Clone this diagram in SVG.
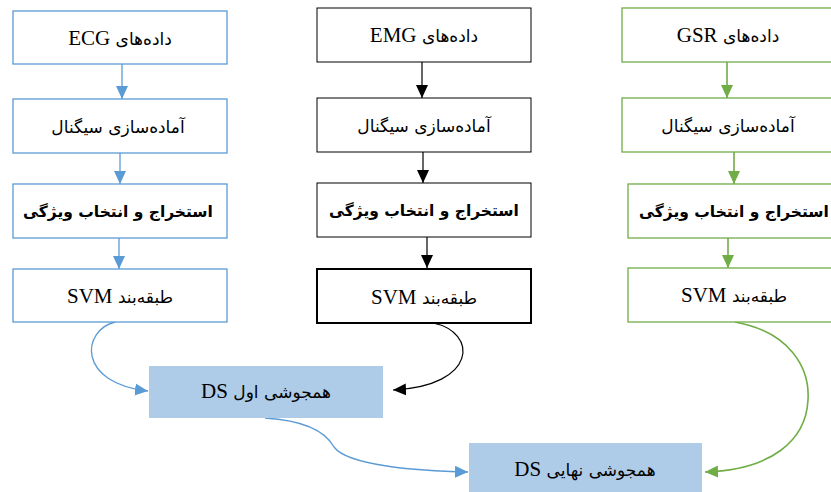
<svg xmlns="http://www.w3.org/2000/svg" width="831" height="492" viewBox="0 0 831 492">
<style>
.b{fill:#fff;stroke:#5B9BD5;stroke-width:1.3}
.k{fill:#fff;stroke:#000;stroke-width:1}
.k2{fill:#fff;stroke:#000;stroke-width:2}
.g{fill:#fff;stroke:#70AD47;stroke-width:1.3}
.f{fill:#AECBE8;stroke:none}
text{font-family:"DejaVu Sans","Liberation Serif",sans-serif;font-size:17px;fill:#000;text-anchor:middle;direction:rtl}
.l{font-family:"Liberation Serif",serif;font-size:21px}
.bd{font-weight:bold;font-size:15.5px}
.lb{fill:none;stroke:#5B9BD5;stroke-width:1.3}
.lk{fill:none;stroke:#000;stroke-width:1.2}
.lg{fill:none;stroke:#70AD47;stroke-width:1.6}
</style>
<defs>
<marker id="ab" markerUnits="userSpaceOnUse" markerWidth="14" markerHeight="14" viewBox="0 0 14 14" refX="13" refY="7" orient="auto"><path d="M0,1 L13,7 L0,13 Z" fill="#5B9BD5"/></marker>
<marker id="ak" markerUnits="userSpaceOnUse" markerWidth="14" markerHeight="14" viewBox="0 0 14 14" refX="13" refY="7" orient="auto"><path d="M0,1 L13,7 L0,13 Z" fill="#000"/></marker>
<marker id="ag" markerUnits="userSpaceOnUse" markerWidth="14" markerHeight="14" viewBox="0 0 14 14" refX="13" refY="7" orient="auto"><path d="M0,1 L13,7 L0,13 Z" fill="#70AD47"/></marker>
</defs>
<g id="connectors">
<line class="lb" x1="122" y1="64" x2="122" y2="99" marker-end="url(#ab)"/>
<line class="lb" x1="120" y1="153" x2="120" y2="184" marker-end="url(#ab)"/>
<line class="lb" x1="119" y1="238" x2="119" y2="269" marker-end="url(#ab)"/>
<line class="lk" x1="422" y1="62" x2="422" y2="98" marker-end="url(#ak)"/>
<line class="lk" x1="423" y1="152" x2="423" y2="183" marker-end="url(#ak)"/>
<line class="lk" x1="427" y1="237" x2="427" y2="268" marker-end="url(#ak)"/>
<line class="lg" x1="727" y1="62" x2="727" y2="98" marker-end="url(#ag)"/>
<line class="lg" x1="734" y1="152" x2="734" y2="184" marker-end="url(#ag)"/>
<line class="lg" x1="728" y1="238" x2="728" y2="268" marker-end="url(#ag)"/>
<path class="lb" d="M115,322 C82,330 76,383 148,391" marker-end="url(#ab)"/>
<path class="lk" d="M433,323 C478,332 478,386 393,390" marker-end="url(#ak)"/>
<path class="lb" d="M265,418 C312,421 328,436 334,447 C348,466 420,471 468,472" marker-end="url(#ab)"/>
<path class="lg" d="M735,322 C790,332 810,368 808,400 C806,440 772,470 705,472" marker-end="url(#ag)"/>
</g>
<g id="ecg1"><rect class="b" x="13" y="11" width="214" height="53"/><text x="120" y="45">داده‌های <tspan class="l">ECG</tspan></text></g>
<g id="ecg2"><rect class="b" x="13" y="99" width="214" height="54"/><text x="118" y="133">آماده‌سازی سیگنال</text></g>
<g id="ecg3"><rect class="b" x="13" y="184" width="214" height="54"/><text class="bd" x="118" y="217">استخراج و انتخاب ویژگی</text></g>
<g id="ecg4"><rect class="b" x="13" y="269" width="214" height="53"/><text x="120" y="303">طبقه‌بند <tspan class="l">SVM</tspan></text></g>
<g id="emg1"><rect class="k" x="317" y="8" width="214" height="54"/><text x="424" y="42">داده‌های <tspan class="l">EMG</tspan></text></g>
<g id="emg2"><rect class="k" x="317" y="98" width="214" height="54"/><text x="424" y="132">آماده‌سازی سیگنال</text></g>
<g id="emg3"><rect class="k" x="317" y="183" width="214" height="54"/><text class="bd" x="424" y="216">استخراج و انتخاب ویژگی</text></g>
<g id="emg4"><rect class="k2" x="317" y="269" width="214" height="54"/><text x="424" y="304">طبقه‌بند <tspan class="l">SVM</tspan></text></g>
<g id="gsr1"><rect class="g" x="622" y="8" width="214" height="54"/><text x="728" y="42">داده‌های <tspan class="l">GSR</tspan></text></g>
<g id="gsr2"><rect class="g" x="622" y="98" width="214" height="54"/><text x="728" y="132">آماده‌سازی سیگنال</text></g>
<g id="gsr3"><rect class="g" x="628" y="184" width="214" height="54"/><text class="bd" x="734" y="217">استخراج و انتخاب ویژگی</text></g>
<g id="gsr4"><rect class="g" x="628" y="268" width="214" height="54"/><text x="734" y="302">طبقه‌بند <tspan class="l">SVM</tspan></text></g>
<g id="fusion1"><rect class="f" x="149" y="366" width="234" height="52"/><text x="266" y="398">همجوشی اول  <tspan class="l">DS</tspan></text></g>
<g id="fusion2"><rect class="f" x="469" y="443" width="233" height="52"/><text x="585" y="476">همجوشی نهایی  <tspan class="l">DS</tspan></text></g>
</svg>
